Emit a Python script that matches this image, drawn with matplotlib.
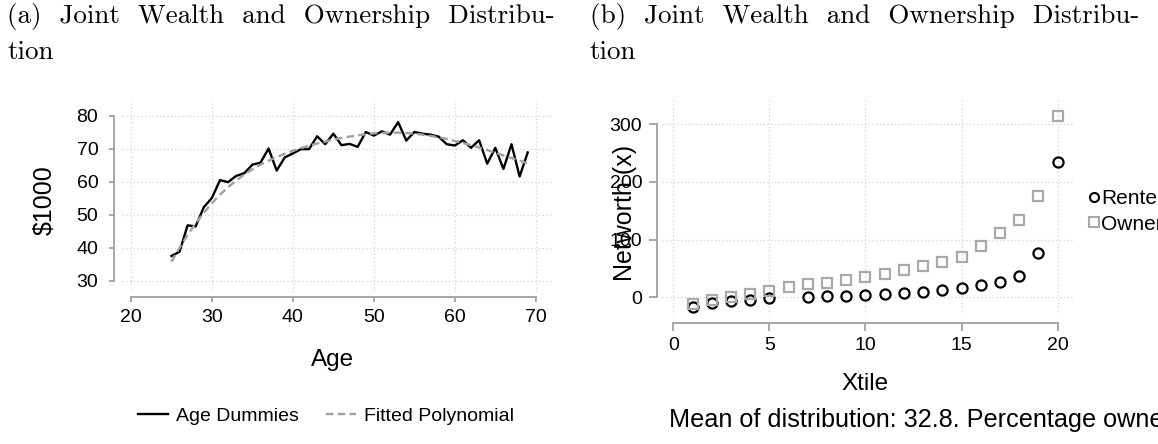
import numpy as np
import matplotlib
matplotlib.use('Agg')
import matplotlib.pyplot as plt
from matplotlib.lines import Line2D

plt.rcParams['font.family'] = ['Liberation Sans', 'DejaVu Sans']

## panel (a): wealth by age
ages = list(range(25, 70))
age_dummies = [37.5, 38.8, 46.8, 46.5, 52.3, 55.1, 60.5, 59.9, 61.8, 62.6,
               65.2, 65.8, 70.1, 63.4, 67.4, 68.6, 69.9, 69.9, 73.8, 71.4,
               74.6, 71.1, 71.5, 70.6, 75.1, 74.0, 75.3, 74.3, 78.1, 72.5,
               75.1, 74.6, 74.3, 73.7, 71.4, 71.0, 72.6, 70.3, 72.6, 65.5,
               70.3, 63.9, 71.4, 61.6, 68.9]
fitted_poly = [35.8, 40.0, 43.9, 47.4, 50.6, 53.5, 56.1, 58.4, 60.4, 62.2,
               63.8, 65.2, 66.4, 67.5, 68.5, 69.4, 70.2, 70.9, 71.6, 72.2,
               72.8, 73.3, 73.7, 74.1, 74.4, 74.7, 74.8, 74.9, 74.9, 74.8,
               74.6, 74.3, 73.9, 73.5, 73.0, 72.4, 71.8, 71.1, 70.4, 69.6,
               68.8, 68.0, 67.2, 66.4, 65.6]

## panel (b): networth by xtile
xtile = list(range(1, 21))
renters = [-16, -10.5, -7, -4.5, -1.5, np.nan, 0.5, 1.5, 2.5, 4, 5.7, 7.5,
           9.7, 12.7, 16.7, 20.8, 26.6, 37.5, 76.5, 235]
owners = [-12, -4.5, 1, 6, 11, 17.5, 22.5, 25.5, 29.5, 34.7, 40.4, 47.3,
          53.7, 61.8, 69.9, 89.5, 112, 134.6, 176, 315]

W, H = 1158, 444
fig = plt.figure(figsize=(W / 100, H / 100), dpi=100)

spine_col = '#a0a0a0'
grid_col = '#d2d2d2'


def stata_axes(ax, xb, yb, xoff, yoff, tlen, xpad, ypad):
    for s in ['top', 'right']:
        ax.spines[s].set_visible(False)
    ax.spines['left'].set_position(('outward', yoff))
    ax.spines['bottom'].set_position(('outward', xoff))
    ax.spines['left'].set_bounds(*yb)
    ax.spines['bottom'].set_bounds(*xb)
    for s in ['left', 'bottom']:
        ax.spines[s].set_color(spine_col)
        ax.spines[s].set_linewidth(1.3)
    ax.tick_params(axis='both', direction='out', length=tlen, width=1.3,
                   color=spine_col, labelsize=14)
    ax.tick_params(axis='x', pad=xpad)
    ax.tick_params(axis='y', pad=ypad)
    ax.grid(True, linestyle=(0, (1, 2)), color=grid_col, linewidth=0.9)
    ax.set_axisbelow(True)


# ---- left panel
ax1 = fig.add_axes([122 / W, 1 - 292 / H, (552 - 122) / W, (292 - 100) / H])
ax1.plot(ages, age_dummies, color='black', lw=1.7, zorder=3)
ax1.plot(ages, fitted_poly, color='#a0a0a0', lw=1.7, dashes=(3.2, 1.8), zorder=4)
ax1.set_xlim(18.9, 72.0)
ax1.set_ylim(26.6, 84.8)
ax1.set_xticks([20, 30, 40, 50, 60, 70])
ax1.set_yticks([30, 40, 50, 60, 70, 80])
stata_axes(ax1, (20, 70), (30, 80), 3.6, 5.8, 3.8, 4.5, 7.5)

fig.text(45 / W, 1 - 200 / H, '$1000', rotation=90, ha='center', va='center', fontsize=18)
fig.text(333 / W, 1 - 365.7 / H, 'Age', ha='center', va='baseline', fontsize=17.5)

h1 = [Line2D([], [], color='black', lw=1.7),
      Line2D([], [], color='#a0a0a0', lw=1.7, dashes=(3.2, 1.8))]
fig.legend(h1, ['Age Dummies', 'Fitted Polynomial'], loc='center',
           bbox_to_anchor=(326 / W, 1 - 416 / H), ncol=2, frameon=False,
           fontsize=14, handlelength=1.55, handletextpad=0.45,
           columnspacing=1.35, borderpad=0)

# ---- right panel
ax2 = fig.add_axes([662 / W, 1 - 315 / H, (1073 - 662) / W, (315 - 100) / H])
ax2.plot(xtile, renters, ls='none', marker='o', ms=7.3, mfc='none',
         mec='black', mew=1.6, zorder=3)
ax2.plot(xtile, owners, ls='none', marker='s', ms=7.6, mfc='none',
         mec='#a9a9a9', mew=1.6, zorder=3)
ax2.set_xlim(-0.59, 20.8)
ax2.set_ylim(-30.7, 342)
ax2.set_xticks([0, 5, 10, 15, 20])
ax2.set_yticks([0, 100, 200, 300])
stata_axes(ax2, (0, 20), (0, 300), 6.0, 3.8, 6.0, 3.5, 4.5)

fig.text(625 / W, 1 - 212.5 / H, 'Networth (x)', rotation=90, ha='center',
         va='center', fontsize=18)
fig.text(865 / W, 1 - 390 / H, 'Xtile', ha='center', va='baseline', fontsize=17.5)
fig.text(669 / W, 1 - 426.7 / H, 'Mean of distribution: 32.8. Percentage owners',
         ha='left', va='baseline', fontsize=18.2)

h2 = [Line2D([], [], ls='none', marker='o', ms=6.5, mfc='none', mec='black', mew=1.5),
      Line2D([], [], ls='none', marker='s', ms=6.5, mfc='none', mec='#a9a9a9', mew=1.5)]
fig.legend(h2, ['Renters', 'Owners'], loc='center left',
           bbox_to_anchor=(1089 / W, 1 - 211.5 / H), frameon=False,
           fontsize=15, handlelength=0.47, handletextpad=0.1,
           labelspacing=0.3, borderpad=0, borderaxespad=0)

# ---- sub-captions
cap = dict(fontfamily='cmr10', fontsize=19.5, va='baseline', ha='left')
fig.text(7 / W, 1 - 23 / H, '(a)  Joint  Wealth  and  Ownership  Distribu-', **cap)
fig.text(7 / W, 1 - 59 / H, 'tion', **cap)
fig.text(590 / W, 1 - 23 / H, '(b)  Joint  Wealth  and  Ownership  Distribu-', **cap)
fig.text(590 / W, 1 - 59 / H, 'tion', **cap)

fig.savefig('out.png', dpi=100)
